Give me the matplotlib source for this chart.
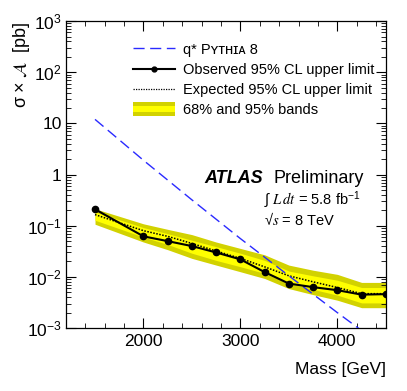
import matplotlib
matplotlib.use("Agg")
import matplotlib.pyplot as plt
import numpy as np
from matplotlib.legend_handler import HandlerBase
from matplotlib.patches import Rectangle
from matplotlib.lines import Line2D
from matplotlib.ticker import FixedLocator, FuncFormatter, LogLocator, MultipleLocator, NullFormatter

plt.rcParams['font.family'] = ['Liberation Sans', 'DejaVu Sans']
plt.rcParams['mathtext.fontset'] = 'stix'

# ---------------- data ----------------
mass = [1500, 2000, 2250, 2500, 2750, 3000, 3250, 3500, 3750, 4000, 4250, 4500]
observed = [0.21, 0.062, 0.050, 0.040, 0.030, 0.022, 0.0124, 0.0074, 0.0063, 0.0055, 0.0045, 0.0046]
expected = [0.165, 0.080, 0.062, 0.045, 0.032, 0.023, 0.0157, 0.0105, 0.0080, 0.0062, 0.0047, 0.0047]
band95_lo = [0.107, 0.048, 0.034, 0.023, 0.017, 0.0126, 0.0093, 0.0059, 0.0045, 0.0035, 0.0025, 0.0025]
band95_hi = [0.215, 0.109, 0.085, 0.067, 0.048, 0.036, 0.027, 0.017, 0.0135, 0.0112, 0.0078, 0.0078]
band68_lo = [0.128, 0.060, 0.043, 0.029, 0.021, 0.0158, 0.0117, 0.0074, 0.0057, 0.0044, 0.0031, 0.0031]
band68_hi = [0.186, 0.092, 0.070, 0.052, 0.039, 0.029, 0.021, 0.013, 0.0105, 0.0086, 0.0062, 0.0062]

theory_mass = [1500, 2000, 2500, 3000, 3500, 4000, 4500]
theory_xs = [12.0, 1.9, 0.32, 0.056, 0.0105, 0.0020, 0.0004]

ytick_vals = [1e-3, 1e-2, 1e-1, 1, 10, 100, 1000]
ytick_labels = [r'$\mathregular{10^{-3}}$', r'$\mathregular{10^{-2}}$', r'$\mathregular{10^{-1}}$',
                '1', '10', r'$\mathregular{10^{2}}$', r'$\mathregular{10^{3}}$']
xtick_vals = [2000, 3000, 4000]

c95 = '#d2d200'
c68 = '#ffff00'
cblue = '#2a2aff'

# ---------------- figure ----------------
fig = plt.figure(figsize=(4.07, 3.91), dpi=100)
ax = fig.add_axes([0.162, 0.161, 0.786, 0.785])

ax.fill_between(mass, band95_lo, band95_hi, color=c95, lw=0, zorder=1)
ax.fill_between(mass, band68_lo, band68_hi, color=c68, lw=0, zorder=2)
ax.plot(mass, expected, color='black', ls=(0, (1, 1)), lw=1.1, zorder=3)
ax.plot(theory_mass, theory_xs, color=cblue, ls=(0, (8, 4)), lw=1.0, zorder=4)
ax.plot(mass, observed, color='black', lw=1.5, marker='o', ms=4.5, zorder=5)

ax.set_yscale('log')
ax.set_xlim(1200, 4500)
ax.set_ylim(1e-3, 1e3)

ax.yaxis.set_major_locator(FixedLocator(ytick_vals))
ax.yaxis.set_major_formatter(FuncFormatter(lambda v, p: ytick_labels[ytick_vals.index(v)] if v in ytick_vals else ''))
ax.yaxis.set_minor_locator(LogLocator(base=10, subs=np.arange(2, 10), numticks=20))
ax.yaxis.set_minor_formatter(NullFormatter())
ax.xaxis.set_major_locator(FixedLocator(xtick_vals))
ax.xaxis.set_minor_locator(MultipleLocator(200))

ax.tick_params(which='both', direction='in', top=True, right=True, labelsize=12.5)
ax.tick_params(which='major', length=7, width=0.8)
ax.tick_params(which='minor', length=3.5, width=0.6)
ax.tick_params(axis='x', pad=4)
ax.tick_params(axis='y', pad=3)
for s in ax.spines.values():
    s.set_linewidth(0.9)

ax.set_xlabel('Mass [GeV]', fontsize=12.5, loc='right', labelpad=10)
ax.set_ylabel(r'$\mathregular{\sigma}\ \mathregular{\times}\ \mathcal{A}$  [pb]', fontsize=13,
              loc='top', labelpad=-4)

# ---------------- legend ----------------
class BandHandler(HandlerBase):
    def create_artists(self, legend, orig_handle, xdescent, ydescent, width, height, fontsize, trans):
        outer = Rectangle((-xdescent, -ydescent - 0.15 * height), width, height * 1.3,
                          facecolor=c95, edgecolor='none', transform=trans)
        inner = Rectangle((-xdescent, -ydescent + 0.2 * height), width, height * 0.6,
                          facecolor=c68, edgecolor='none', transform=trans)
        return [outer, inner]

band_handle = Rectangle((0, 0), 1, 1)
h_theory = Line2D([], [], color=cblue, ls=(0, (8, 4)), lw=1.0)
h_obs = Line2D([], [], color='black', lw=1.5, marker='o', ms=3.5)
h_exp = Line2D([], [], color='black', ls=(0, (1, 1)), lw=0.9)
leg = ax.legend([h_theory, h_obs, h_exp, band_handle],
                ['q* Pʏᴛʜɪᴀ 8', 'Observed 95% CL upper limit',
                 'Expected 95% CL upper limit', '68% and 95% bands'],
                handler_map={Rectangle: BandHandler()},
                loc='upper left', bbox_to_anchor=(0.209, 0.93), frameon=False,
                fontsize=10.5, handlelength=2.9, handletextpad=0.55,
                labelspacing=0.42, borderpad=0, borderaxespad=0)

# ---------------- annotations ----------------
ax.text(0.434, 0.471, 'ATLAS', transform=ax.transAxes, fontsize=13,
        fontweight='bold', fontstyle='italic', va='baseline')
ax.text(0.648, 0.471, 'Preliminary', transform=ax.transAxes, fontsize=13, va='baseline')
ax.text(0.62, 0.404, r'∫ $L\,dt$ = 5.8 fb$^{\mathregular{-1}}$', transform=ax.transAxes,
        fontsize=10.5, va='baseline')
ax.text(0.62, 0.335, r'√$s$ = 8 TeV', transform=ax.transAxes, fontsize=10.5, va='baseline')

fig.savefig('out.png', dpi=100)
